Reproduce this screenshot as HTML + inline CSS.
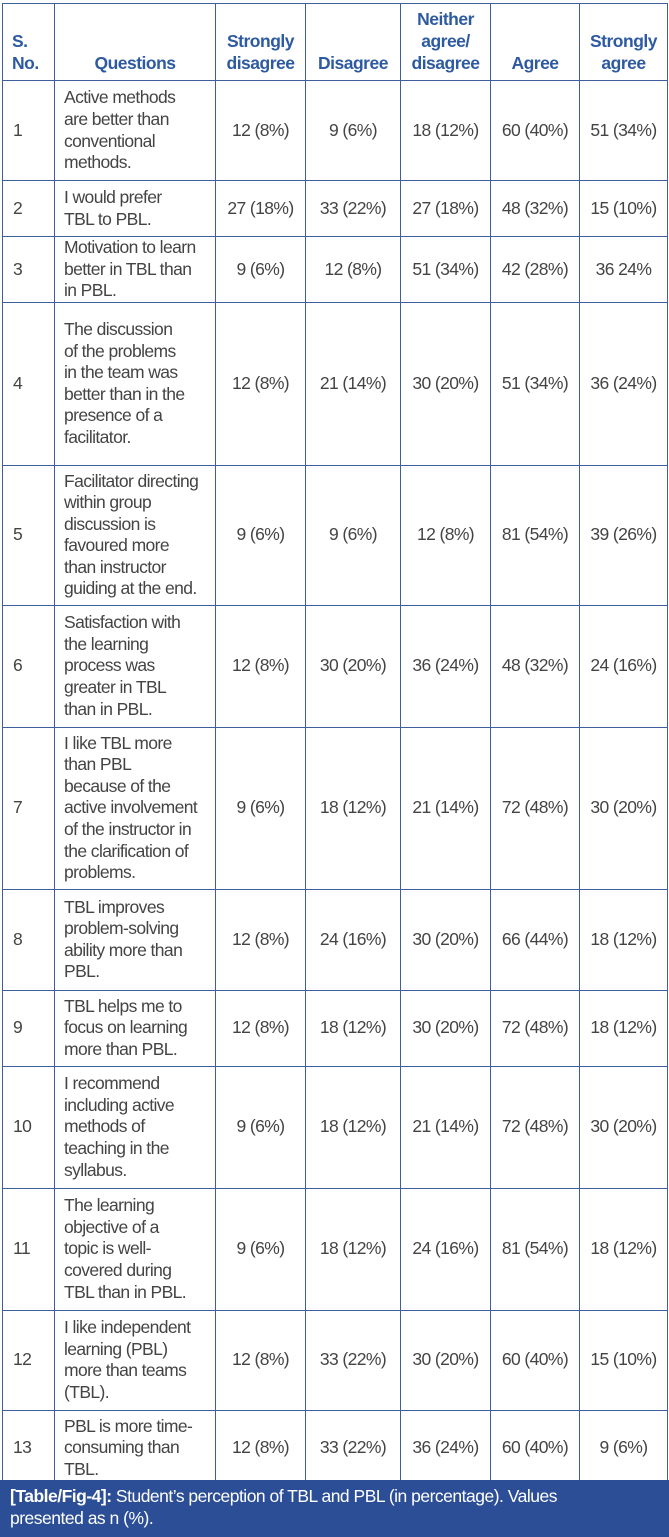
<!DOCTYPE html>
<html><head><meta charset="utf-8"><style>
body{margin:0;background:#fff;width:669px;height:1537px;overflow:hidden;position:relative;font-family:"Liberation Sans",Arial,sans-serif;}
table{position:absolute;left:2px;top:3px;border-collapse:collapse;table-layout:fixed;width:665px;}
td,th{border:1.3px solid #3d5f9e;padding:0;font-size:17.5px;line-height:21.6px;color:#444;letter-spacing:-0.6px;}
th{color:#2d5aa0;font-weight:bold;vertical-align:bottom;padding-bottom:6px;text-align:center;line-height:22px;font-size:17.5px;letter-spacing:-0.5px;}
th.s{text-align:left;padding-left:9px;}
td{vertical-align:middle;text-align:center;white-space:nowrap;}
td.n{text-align:left;padding-left:10px;}
td.q{text-align:left;padding-left:9px;}
tr.h{height:77px;}
.cap{position:absolute;left:0;top:1480px;width:669px;height:57px;background:#2b4e96;color:#fff;font-size:17.5px;line-height:22px;box-sizing:border-box;padding:5px 10px;letter-spacing:-0.5px;white-space:nowrap;}
</style></head><body>
<table>
<colgroup><col style="width:52px"><col style="width:161px"><col style="width:90px"><col style="width:95px"><col style="width:90px"><col style="width:89px"><col style="width:88px"></colgroup>
<tr class="h"><th class="s">S.<br>No.</th><th>Questions</th><th>Strongly<br>disagree</th><th>Disagree</th><th>Neither<br>agree/<br>disagree</th><th>Agree</th><th>Strongly<br>agree</th></tr>
<tr style="height:100px"><td class="n">1</td><td class="q">Active methods<br>are better than<br>conventional<br>methods.</td><td>12 (8%)</td><td>9 (6%)</td><td>18 (12%)</td><td>60 (40%)</td><td>51 (34%)</td></tr>
<tr style="height:56px"><td class="n">2</td><td class="q">I would prefer<br>TBL to PBL.</td><td>27 (18%)</td><td>33 (22%)</td><td>27 (18%)</td><td>48 (32%)</td><td>15 (10%)</td></tr>
<tr style="height:60px"><td class="n">3</td><td class="q">Motivation to learn<br>better in TBL than<br>in PBL.</td><td>9 (6%)</td><td>12 (8%)</td><td>51 (34%)</td><td>42 (28%)</td><td>36 24%</td></tr>
<tr style="height:163px"><td class="n">4</td><td class="q">The discussion<br>of the problems<br>in the team was<br>better than in the<br>presence of a<br>facilitator.</td><td>12 (8%)</td><td>21 (14%)</td><td>30 (20%)</td><td>51 (34%)</td><td>36 (24%)</td></tr>
<tr style="height:140px"><td class="n">5</td><td class="q">Facilitator directing<br>within group<br>discussion is<br>favoured more<br>than instructor<br>guiding at the end.</td><td>9 (6%)</td><td>9 (6%)</td><td>12 (8%)</td><td>81 (54%)</td><td>39 (26%)</td></tr>
<tr style="height:122px"><td class="n">6</td><td class="q">Satisfaction with<br>the learning<br>process was<br>greater in TBL<br>than in PBL.</td><td>12 (8%)</td><td>30 (20%)</td><td>36 (24%)</td><td>48 (32%)</td><td>24 (16%)</td></tr>
<tr style="height:162px"><td class="n">7</td><td class="q">I like TBL more<br>than PBL<br>because of the<br>active involvement<br>of the instructor in<br>the clarification of<br>problems.</td><td>9 (6%)</td><td>18 (12%)</td><td>21 (14%)</td><td>72 (48%)</td><td>30 (20%)</td></tr>
<tr style="height:101px"><td class="n">8</td><td class="q">TBL improves<br>problem-solving<br>ability more than<br>PBL.</td><td>12 (8%)</td><td>24 (16%)</td><td>30 (20%)</td><td>66 (44%)</td><td>18 (12%)</td></tr>
<tr style="height:76px"><td class="n">9</td><td class="q">TBL helps me to<br>focus on learning<br>more than PBL.</td><td>12 (8%)</td><td>18 (12%)</td><td>30 (20%)</td><td>72 (48%)</td><td>18 (12%)</td></tr>
<tr style="height:122px"><td class="n">10</td><td class="q">I recommend<br>including active<br>methods of<br>teaching in the<br>syllabus.</td><td>9 (6%)</td><td>18 (12%)</td><td>21 (14%)</td><td>72 (48%)</td><td>30 (20%)</td></tr>
<tr style="height:122px"><td class="n">11</td><td class="q">The learning<br>objective of a<br>topic is well-<br>covered during<br>TBL than in PBL.</td><td>9 (6%)</td><td>18 (12%)</td><td>24 (16%)</td><td>81 (54%)</td><td>18 (12%)</td></tr>
<tr style="height:100px"><td class="n">12</td><td class="q">I like independent<br>learning (PBL)<br>more than teams<br>(TBL).</td><td>12 (8%)</td><td>33 (22%)</td><td>30 (20%)</td><td>60 (40%)</td><td>15 (10%)</td></tr>
<tr style="height:76px"><td class="n">13</td><td class="q">PBL is more time-<br>consuming than<br>TBL.</td><td>12 (8%)</td><td>33 (22%)</td><td>36 (24%)</td><td>60 (40%)</td><td>9 (6%)</td></tr>
</table>
<div class="cap"><b>[Table/Fig-4]:</b> Student’s perception of TBL and PBL (in percentage). Values<br>presented as n (%).</div>
</body></html>
